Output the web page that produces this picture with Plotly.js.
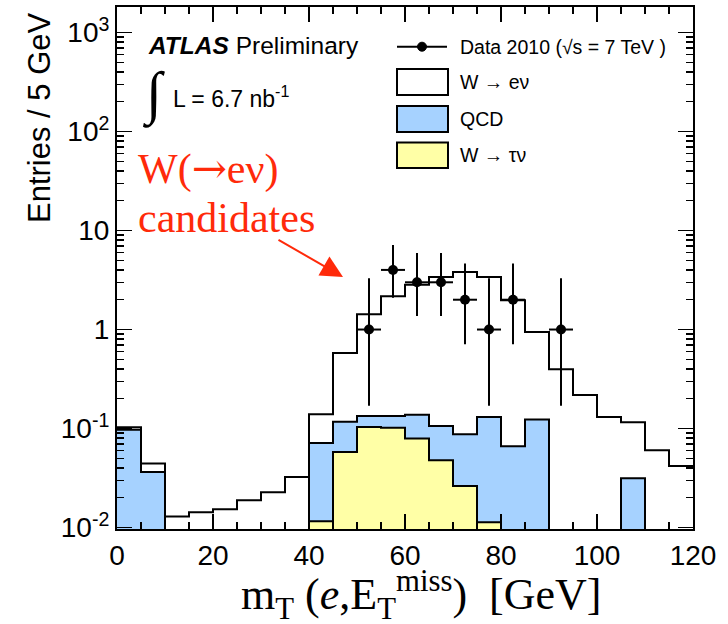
<!DOCTYPE html>
<html><head><meta charset="utf-8">
<script src="https://cdn.plot.ly/plotly-3.0.1.min.js"></script>
<style>html,body{margin:0;padding:0;background:#fff}#chart{width:728px;height:624px}</style>
</head><body><div id="chart"></div>
<script>
// ---- data ----
const binEdges = [0,5,10,15,20,25,30,35,40,45,50,55,60,65,70,75,80,85,90,95,100,105,110,115,120];
// W -> tau nu (bottom of stack)
const wtaunu = [0,0,0,0,0,0,0,0,0.0116,0.0578,0.1035,0.102,0.0791,0.0477,0.0262,0.0113,0,0,0,0,0,0,0,0];
// QCD (middle of stack)
const qcd = [0.097,0.0363,0,0,0,0,0,0,0.0597,0.0592,0.0305,0.032,0.0589,0.0583,0.0612,0.1197,0.0661,0.123,0,0,0,0.0314,0,0];
// W -> e nu (top of stack)
const wenu = [0.006,0.0079,0.0129,0.0143,0.0153,0.0188,0.0227,0.0323,0.0677,0.463,1.296,2.036,2.702,3.294,3.733,3.269,1.914,0.823,0.397,0.218,0.131,0.0846,0.0602,0.0418];
// Data 2010
const dataX = [52.5,57.5,62.5,67.5,72.5,77.5,82.5,92.5];
const dataY = [1,4,3,3,2,1,2,1];
const dataErrUp = [2.30,3.16,2.92,2.92,2.64,2.30,2.64,2.30];
const dataErrDown = [0.83,1.91,1.63,1.63,1.29,0.83,1.29,0.83];
// ticks
const xTickVals = [0,20,40,60,80,100,120];
const yTickVals = [0.01,0.1,1,10,100,1000];
const yTickText = ['10<sup>-2</sup>','10<sup>-1</sup>','1','10','10<sup>2</sup>','10<sup>3</sup>'];
const legendLabels = ['Data 2010 (\u221As = 7 TeV )','W \u2192 e\u03BD','QCD','W \u2192 \u03C4\u03BD'];

// ---- styling ----
const W = 728, H = 624;
const M = {l:117, r:35, t:7, b:95};
const yRange = [-2.015, 3.258];
const blue = '#a6d2ff', yellow = '#ffffa6', red = '#ff2a0a';
const sans = 'Liberation Sans, Arial, sans-serif';
const serif = 'Liberation Serif, Times New Roman, serif';

const centers = binEdges.slice(0,-1).map((e,i)=>(e+binEdges[i+1])/2);
const widths = binEdges.slice(0,-1).map((e,i)=>binEdges[i+1]-e);
const levTau = wtaunu.slice();
const levQcd = levTau.map((v,i)=>v+qcd[i]);
const levTot = levQcd.map((v,i)=>v+wenu[i]);
const floorVal = Math.pow(10, yRange[0]-1);
function stepY(lev){ const a = lev.map(v=>v>0?v:floorVal); a.push(a[a.length-1]); return a; }

const traces = [];
[[levTot,'#ffffff'],[levQcd,blue],[levTau,yellow]].forEach(([lev,col])=>{
  traces.push({type:'bar', x:centers, y:lev, width:widths, marker:{color:col, line:{width:0}}, hoverinfo:'skip', showlegend:false});
});
[levTot,levQcd,levTau].forEach(lev=>{
  traces.push({type:'scatter', mode:'lines', x:binEdges, y:stepY(lev), line:{shape:'hv', color:'#000', width:2}, hoverinfo:'skip', showlegend:false});
});
const halfBin = (binEdges[1]-binEdges[0])/2;
traces.push({type:'scatter', mode:'markers', x:dataX, y:dataY,
  marker:{color:'#000', size:10},
  error_y:{type:'data', symmetric:false, array:dataErrUp, arrayminus:dataErrDown, color:'#000', thickness:2, width:0},
  error_x:{type:'constant', value:halfBin, color:'#000', thickness:2, width:0},
  showlegend:false});

const pw = W - M.l - M.r, ph = H - M.t - M.b;
const px = x => (x - M.l)/pw;
const py = y => (H - M.b - y)/ph;

const minorY = [];
for (let k=-3;k<=3;k++) for (let d=2; d<=9; d++) minorY.push(d*Math.pow(10,k));

const arrowSpan = '<span style="font-family:DejaVu Serif">\u2192</span>';
const ann = [];
const A = (o)=>ann.push(Object.assign({xref:'paper', yref:'paper', showarrow:false}, o));
A({x:px(39), y:py(118), text:'Entries / 5 GeV', textangle:-90, font:{family:sans, size:31, color:'#000'}, xanchor:'center', yanchor:'middle'});
A({x:px(421), y:py(595), text:'m<sub>T</sub> (<i>e</i>,E<sub>T</sub><sup>miss</sup>)\u00a0\u00a0[GeV]', font:{family:serif, size:44, color:'#000'}, xanchor:'center', yanchor:'middle'});
A({x:px(146), y:py(46), text:'<b><i>ATLAS</i></b> Preliminary', font:{family:sans, size:24.5, color:'#000'}, xanchor:'left', yanchor:'middle'});
A({x:px(153), y:py(94), text:'\u222B', font:{family:serif, size:58, color:'#000'}, xanchor:'center', yanchor:'middle'});
A({x:px(171), y:py(97), text:'L = 6.7 nb<sup>-1</sup>', font:{family:sans, size:23, color:'#000'}, xanchor:'left', yanchor:'middle'});
A({x:px(136), y:py(168), text:'W(' + arrowSpan + 'e\u03BD)', font:{family:serif, size:42, color:red}, xanchor:'left', yanchor:'middle'});
A({x:px(136), y:py(218), text:'candidates', font:{family:serif, size:42, color:red}, xanchor:'left', yanchor:'middle'});
ann.push({xref:'paper', yref:'paper', x:px(343), y:py(277), text:'', showarrow:true, ax:-66, ay:-38, arrowhead:2, arrowsize:2.2, arrowwidth:2, arrowcolor:red});
const legY = [46.7, 82, 119, 155];
legendLabels.forEach((t,i)=>A({x:px(458), y:py(legY[i]), text:t, font:{family:sans, size:19.5, color:'#000'}, xanchor:'left', yanchor:'middle'}));

const shapes = [
  {type:'line', xref:'paper', yref:'paper', x0:px(397), x1:px(447), y0:py(46.7), y1:py(46.7), line:{color:'#000', width:2}},
  {type:'circle', xref:'paper', yref:'paper', x0:px(417.5), x1:px(426.5), y0:py(42.2), y1:py(51.2), fillcolor:'#000', line:{color:'#000', width:1}},
  {type:'rect', xref:'paper', yref:'paper', x0:px(397), x1:px(448), y0:py(69), y1:py(95), fillcolor:'#fff', line:{color:'#000', width:2}},
  {type:'rect', xref:'paper', yref:'paper', x0:px(397), x1:px(448), y0:py(106), y1:py(132), fillcolor:blue, line:{color:'#000', width:2}},
  {type:'rect', xref:'paper', yref:'paper', x0:px(397), x1:px(448), y0:py(142.5), y1:py(168), fillcolor:yellow, line:{color:'#000', width:2}}
];

const layout = {
  width:W, height:H, margin:M, paper_bgcolor:'#fff', plot_bgcolor:'#fff',
  barmode:'overlay', bargap:0, showlegend:false,
  xaxis:{range:[binEdges[0], binEdges[binEdges.length-1]], tickvals:xTickVals, ticks:'inside', ticklen:15, tickwidth:1.5, tickcolor:'#000',
    showline:true, linecolor:'#000', linewidth:2, mirror:'ticks', showgrid:false, zeroline:false,
    tickfont:{family:sans, size:28, color:'#000'},
    minor:{dtick:5, tick0:0, ticks:'inside', ticklen:7, tickwidth:1.5, tickcolor:'#000', showgrid:false}},
  yaxis:{type:'log', range:yRange, tickvals:yTickVals, ticktext:yTickText, ticks:'inside', ticklen:15, tickwidth:1.5, tickcolor:'#000',
    showline:true, linecolor:'#000', linewidth:2, mirror:'ticks', showgrid:false, zeroline:false,
    tickfont:{family:sans, size:28, color:'#000'},
    minor:{tickvals:minorY, ticks:'inside', ticklen:7, tickwidth:1.5, tickcolor:'#000', showgrid:false}},
  annotations:ann, shapes:shapes
};
Plotly.newPlot('chart', traces, layout, {displayModeBar:false, staticPlot:true});
</script></body></html>
